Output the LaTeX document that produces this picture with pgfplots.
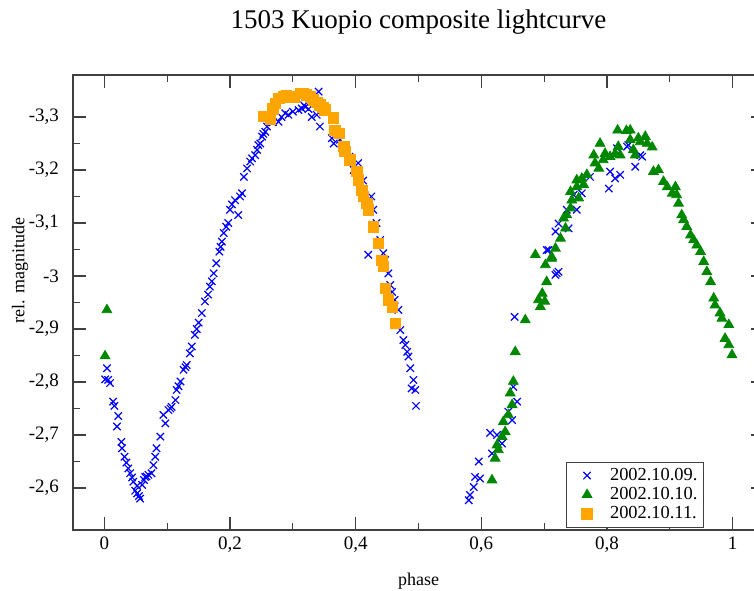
\documentclass[border=0pt]{standalone}
\usepackage{fontspec}
\setmainfont{Liberation Serif}
\usepackage{pgfplots}
\pgfplotsset{compat=1.18}
\definecolor{day09}{RGB}{0,0,255}
\definecolor{day10}{RGB}{0,135,0}
\definecolor{day11}{RGB}{255,165,0}

% phase, rel. magnitude
\pgfplotstableread{
ph mag
0.004 -2.826
0.001 -2.805
0.009 -2.798
0.006 -2.804
0.014 -2.763
0.016 -2.755
0.022 -2.736
0.020 -2.716
0.027 -2.687
0.028 -2.675
0.032 -2.659
0.035 -2.648
0.038 -2.637
0.041 -2.628
0.044 -2.620
0.046 -2.612
0.049 -2.595
0.052 -2.604
0.052 -2.590
0.055 -2.585
0.057 -2.580
0.060 -2.606
0.063 -2.615
0.065 -2.621
0.067 -2.622
0.070 -2.625
0.075 -2.628
0.078 -2.643
0.081 -2.659
0.083 -2.675
0.089 -2.697
0.097 -2.722
0.094 -2.738
0.102 -2.747
0.105 -2.750
0.107 -2.753
0.113 -2.766
0.115 -2.785
0.118 -2.792
0.121 -2.801
0.126 -2.823
0.129 -2.828
0.131 -2.832
0.136 -2.854
0.139 -2.867
0.144 -2.889
0.147 -2.900
0.150 -2.912
0.155 -2.930
0.160 -2.952
0.165 -2.965
0.168 -2.980
0.171 -2.990
0.174 -3.005
0.178 -3.024
0.183 -3.046
0.185 -3.055
0.187 -3.065
0.190 -3.081
0.194 -3.093
0.197 -3.100
0.200 -3.125
0.203 -3.135
0.213 -3.115
0.208 -3.143
0.216 -3.150
0.219 -3.156
0.222 -3.187
0.227 -3.203
0.232 -3.216
0.235 -3.222
0.240 -3.228
0.243 -3.238
0.245 -3.247
0.248 -3.250
0.251 -3.263
0.253 -3.268
0.256 -3.272
0.259 -3.282
0.264 -3.294
0.268 -3.290
0.277 -3.291
0.282 -3.300
0.288 -3.307
0.293 -3.304
0.300 -3.310
0.309 -3.313
0.314 -3.316
0.318 -3.322
0.320 -3.319
0.325 -3.315
0.330 -3.300
0.341 -3.348
0.338 -3.304
0.343 -3.282
0.362 -3.260
0.365 -3.250
0.375 -3.257
0.380 -3.240
0.390 -3.225
0.404 -3.213
0.397 -3.200
0.412 -3.180
0.425 -3.150
0.428 -3.125
0.433 -3.100
0.439 -3.068
0.420 -3.040
0.444 -3.043
0.447 -3.030
0.452 -3.005
0.455 -2.983
0.458 -2.970
0.462 -2.955
0.468 -2.936
0.471 -2.898
0.476 -2.879
0.479 -2.870
0.482 -2.857
0.484 -2.848
0.487 -2.826
0.492 -2.804
0.489 -2.788
0.495 -2.785
0.496 -2.755
0.580 -2.577
0.582 -2.587
0.588 -2.602
0.590 -2.621
0.598 -2.618
0.596 -2.650
0.617 -2.665
0.614 -2.704
0.625 -2.700
0.633 -2.684
0.643 -2.744
0.649 -2.728
0.651 -2.791
0.657 -2.763
0.653 -2.923
0.707 -3.049
0.704 -3.049
0.723 -3.008
0.718 -3.002
0.720 -3.005
0.718 -3.084
0.723 -3.099
0.739 -3.090
0.736 -3.125
0.752 -3.125
0.747 -3.153
0.760 -3.156
0.773 -3.187
0.803 -3.165
0.805 -3.197
0.813 -3.184
0.821 -3.191
0.845 -3.206
0.816 -3.241
0.832 -3.244
0.834 -3.247
0.853 -3.228
0.856 -3.225
}\dayA

\pgfplotstableread{
ph mag
0.004 -2.936
0.001 -2.849
0.617 -2.615
0.622 -2.656
0.627 -2.672
0.625 -2.681
0.633 -2.697
0.638 -2.706
0.635 -2.725
0.643 -2.738
0.649 -2.757
0.646 -2.779
0.651 -2.801
0.654 -2.857
0.670 -2.917
0.686 -3.040
0.694 -2.942
0.691 -2.955
0.701 -2.952
0.697 -2.967
0.704 -2.989
0.702 -3.021
0.712 -3.033
0.718 -3.052
0.712 -3.036
0.726 -3.071
0.734 -3.090
0.731 -3.109
0.736 -3.115
0.742 -3.128
0.744 -3.143
0.755 -3.147
0.742 -3.159
0.752 -3.168
0.763 -3.172
0.752 -3.181
0.760 -3.184
0.768 -3.191
0.787 -3.203
0.781 -3.213
0.779 -3.228
0.789 -3.250
0.794 -3.219
0.797 -3.231
0.805 -3.225
0.813 -3.231
0.818 -3.244
0.821 -3.228
0.817 -3.275
0.831 -3.274
0.837 -3.275
0.837 -3.257
0.842 -3.238
0.845 -3.228
0.850 -3.260
0.853 -3.253
0.861 -3.263
0.864 -3.250
0.872 -3.243
0.874 -3.197
0.882 -3.200
0.890 -3.178
0.896 -3.168
0.904 -3.156
0.909 -3.168
0.911 -3.153
0.914 -3.137
0.919 -3.115
0.922 -3.106
0.927 -3.093
0.933 -3.077
0.938 -3.068
0.943 -3.058
0.949 -3.046
0.954 -3.027
0.959 -3.008
0.965 -2.989
0.970 -2.958
0.972 -2.945
0.980 -2.930
0.983 -2.920
0.994 -2.908
0.988 -2.882
0.994 -2.870
0.999 -2.851
}\dayB

\pgfplotstableread{
ph mag
0.253 -3.301
0.261 -3.301
0.264 -3.296
0.268 -3.315
0.272 -3.326
0.278 -3.335
0.285 -3.338
0.290 -3.340
0.296 -3.338
0.302 -3.338
0.312 -3.345
0.317 -3.344
0.322 -3.342
0.328 -3.338
0.333 -3.332
0.338 -3.328
0.343 -3.323
0.348 -3.318
0.351 -3.313
0.365 -3.298
0.367 -3.275
0.373 -3.269
0.381 -3.244
0.383 -3.235
0.391 -3.219
0.402 -3.197
0.404 -3.181
0.410 -3.162
0.412 -3.150
0.418 -3.137
0.420 -3.125
0.428 -3.093
0.436 -3.062
0.442 -3.030
0.444 -3.018
0.447 -2.977
0.452 -2.955
0.458 -2.942
0.463 -2.911
}\dayC

\begin{document}
\begin{tikzpicture}
\begin{axis}[
    name=ax,
    scale only axis,
    width=345.5pt, height=227.5pt,
    xmin=-0.05, xmax=1.05,
    ymin=-3.3792, ymax=-2.5208,
    y dir=reverse,
    xtick={0,0.2,0.4,0.6,0.8,1},
    ytick={-3.3,-3.2,-3.1,-3,-2.9,-2.8,-2.7,-2.6},
    minor x tick num=1, minor y tick num=1,
    tick align=inside,
    major tick length=6.5pt, minor tick length=3.5pt,
    axis line style={black!75, line width=0.8pt},
    every tick/.style={black!75, line width=0.6pt},
    /pgf/number format/assume math mode=true,
    xticklabel style={/pgf/number format/fixed, /pgf/number format/precision=1, /pgf/number format/use comma},
    yticklabel style={/pgf/number format/fixed, /pgf/number format/precision=1, /pgf/number format/use comma, xshift=-3.5pt},
    tick label style={font=\fontsize{9.5}{11}\selectfont},
    legend style={at={(0.913,0.0044)}, anchor=south east, draw=black!75,
        font=\fontsize{9.2}{11}\selectfont, inner xsep=1pt, inner ysep=1pt, row sep=-2pt},
    legend cell align=left,
    legend image code/.code={\path (-9.3pt,0pt) (9.3pt,0pt); \draw[#1] plot coordinates {(0pt,0pt)};},
]
\addplot[only marks, mark=x, mark size=2.6pt, color=day09, mark options={line width=0.6pt}] table[x=ph, y=mag] {\dayA};
\addplot[only marks, mark=triangle*, mark size=2.8pt, color=day10] table[x=ph, y=mag] {\dayB};
\addplot[only marks, mark=square*, mark size=2.6pt, color=day11] table[x=ph, y=mag] {\dayC};
\legend{2002.10.09.,2002.10.10.,2002.10.11.}
\end{axis}
\node[font=\fontsize{13.5}{16}\selectfont, anchor=base] at ([yshift=23pt]ax.north) {1503 Kuopio composite lightcurve};
\node[font=\fontsize{9}{11}\selectfont] at ([yshift=-25.5pt]ax.south) {phase};
\node[font=\fontsize{9}{11}\selectfont, rotate=90] at ([xshift=-26.5pt, yshift=16pt]ax.west) {rel. magnitude};
\pgfresetboundingbox
\path[use as bounding box] ([xshift=-36.5pt, yshift=-30pt]ax.south west) rectangle ([xshift=-5pt, yshift=37.5pt]ax.north east);
\end{tikzpicture}
\end{document}
